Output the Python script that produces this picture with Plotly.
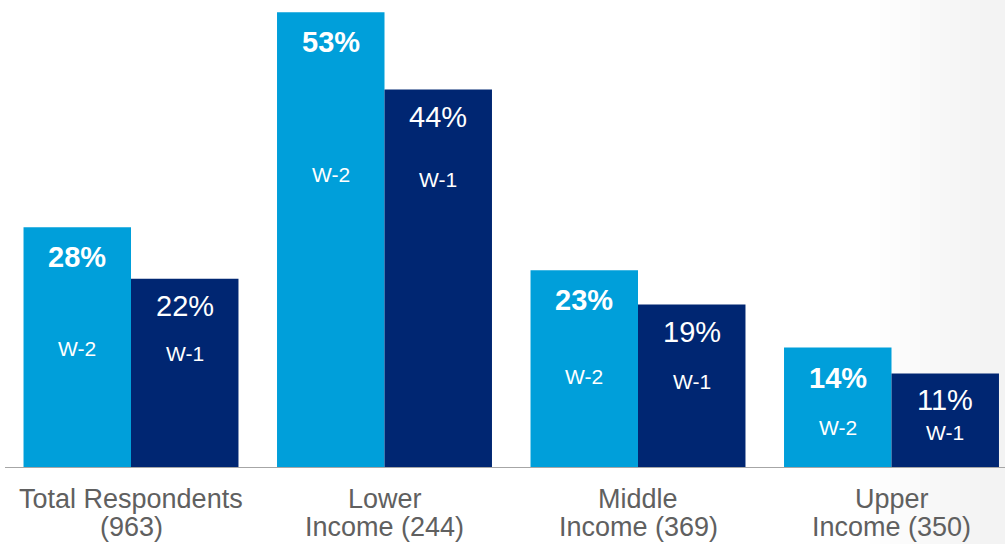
import plotly.graph_objects as go

categories = ["Total Respondents<br>(963)", "Lower<br>Income (244)", "Middle<br>Income (369)", "Upper<br>Income (350)"]
w2_values = [28, 53, 23, 14]
w1_values = [22, 44, 19, 11]
series_names = ["W-2", "W-1"]

LIGHT = "#009FDA"
NAVY = "#002672"
FONT = "Liberation Sans, Arial, sans-serif"

# pixel offsets (below bar top) for the "W-x" tag labels, per group
w2_tag_shift = [121, 162, 106, 80]
w1_tag_shift = [75, 90, 77, 59]

x = list(range(len(categories)))

fig = go.Figure()
fig.add_trace(go.Bar(x=x, y=w2_values, name=series_names[0], marker=dict(color=LIGHT, line=dict(width=0))))
fig.add_trace(go.Bar(x=x, y=w1_values, name=series_names[1], marker=dict(color=NAVY, line=dict(width=0))))

W = 1005
H = 544
plot_bottom = 468
spacing = 253.5
c0 = 131
xr = [-c0 / spacing, (W - c0) / spacing]
px_per = 8.6
yr = [0, plot_bottom / px_per]

annotations = []
half = 0.5 * (1 - 0.152) / 2
for i in x:
    for vals, off, bold, tag, shifts, pshift in [
        (w2_values, -half, True, series_names[0], w2_tag_shift, -30),
        (w1_values, half, False, series_names[1], w1_tag_shift, -27),
    ]:
        txt = f"{vals[i]}%"
        if bold:
            txt = f"<b>{txt}</b>"
        annotations.append(dict(x=i + off, y=vals[i], text=txt, showarrow=False,
                                xanchor="center", yanchor="middle", yshift=pshift,
                                font=dict(family=FONT, size=29, color="white")))
        annotations.append(dict(x=i + off, y=vals[i], text=tag, showarrow=False,
                                xanchor="center", yanchor="middle", yshift=-shifts[i],
                                font=dict(family=FONT, size=21, color="white")))
    # category label, two lines with tight spacing
    for j, line in enumerate(categories[i].split("<br>")):
        annotations.append(dict(x=i, y=0, xref="x", yref="y", text=line, showarrow=False,
                                xanchor="center", yanchor="middle", yshift=-(31 + 28 * j),
                                borderpad=0,
                                font=dict(family=FONT, size=27, color="#606060")))

shapes = []
# faint warm gradient on the right edge
n = 12
for k in range(n):
    x0 = 870 + k * 10
    shapes.append(dict(type="rect", xref="paper", yref="paper", x0=x0 / W, x1=1.0,
                       y0=-(H - plot_bottom) / plot_bottom, y1=1.0,
                       fillcolor="#F1E9E3", opacity=0.04, line=dict(width=0), layer="below"))
shapes.append(dict(type="line", xref="paper", yref="y", x0=5 / W, x1=1.0, y0=0, y1=0,
                   line=dict(color="#A6A6A6", width=2)))

fig.update_layout(
    width=W, height=H,
    margin=dict(l=0, r=0, t=0, b=H - plot_bottom),
    paper_bgcolor="white", plot_bgcolor="rgba(0,0,0,0)",
    barmode="group", bargap=0.152, bargroupgap=0,
    showlegend=False,
    annotations=annotations,
    shapes=shapes,
    xaxis=dict(range=xr, tickvals=x, showticklabels=False, showgrid=False, zeroline=False,
               showline=False, ticks=""),
    yaxis=dict(range=yr, visible=False, showgrid=False, zeroline=False),
    font=dict(family=FONT),
)

fig.write_html("out.html")
